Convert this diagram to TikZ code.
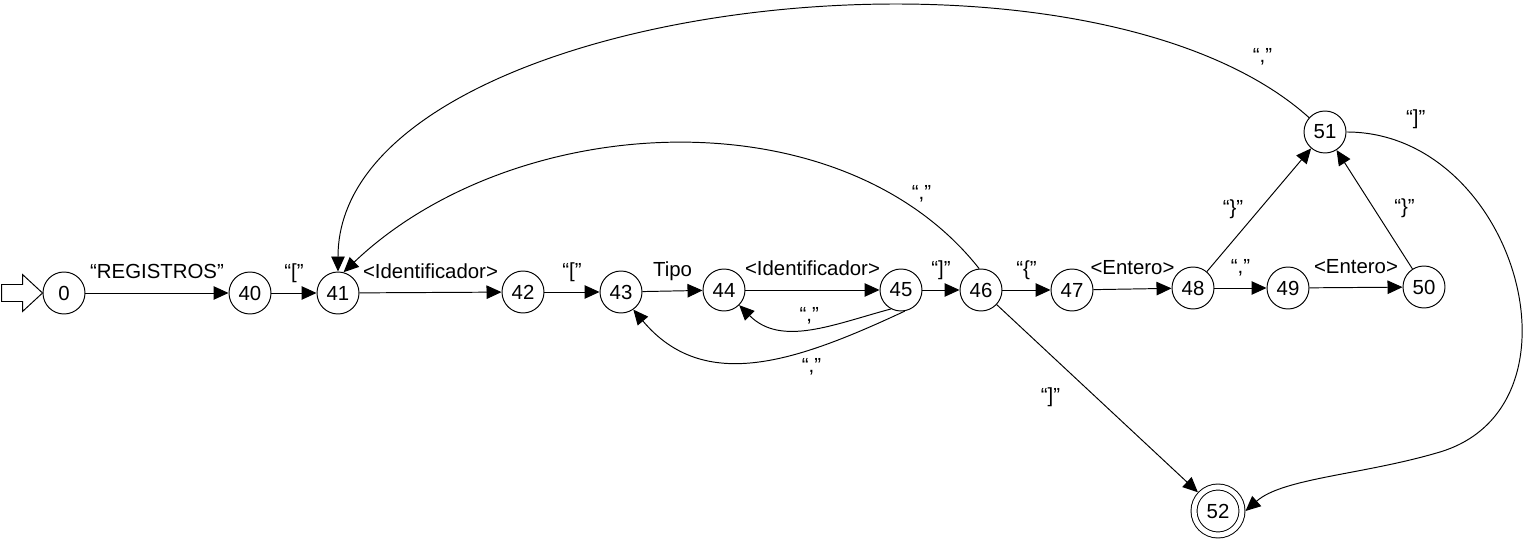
\documentclass[tikz,border=0pt]{standalone}
\usepackage{fontspec}
\setmainfont{Liberation Sans}
\usetikzlibrary{arrows.meta}
\newcommand{\statefont}{\fontsize{11.6pt}{13pt}\selectfont}
\tikzset{
  stnode/.style={circle,draw,line width=0.55pt,minimum size=0.84cm,inner sep=0pt,font=\statefont},
  finnode/.style={stnode,minimum size=0.96cm,double,double distance=0.1cm,outer sep=0.07cm},
  lbl/.style={font=\statefont,inner sep=1pt,text height=0.75em,text depth=0.25em},
  arr/.style={-{Triangle[length=0.3cm,width=0.27cm]},line width=0.55pt}
}

\begin{document}
\begin{tikzpicture}
  \useasboundingbox (0,0) rectangle (30.5,10.8);

  % States
  \node[stnode] (n0)  at (1.28,4.94)  {0};
  \node[stnode] (n40) at (5.00,4.94)  {40};
  \node[stnode] (n41) at (6.76,4.94)  {41};
  \node[stnode] (n42) at (10.46,4.96) {42};
  \node[stnode] (n43) at (12.42,4.96) {43};
  \node[stnode] (n44) at (14.48,5.00) {44};
  \node[stnode] (n45) at (18.02,5.00) {45};
  \node[stnode] (n46) at (19.62,5.00) {46};
  \node[stnode] (n47) at (21.44,5.00) {47};
  \node[stnode] (n48) at (23.86,5.04) {48};
  \node[stnode] (n49) at (25.76,5.04) {49};
  \node[stnode] (n50) at (28.48,5.06) {50};
  \node[stnode] (n51) at (26.50,8.16) {51};
  \node[finnode] (n52) at (24.36,0.58) {52};
  \coordinate (bend52) at (28.80,1.76);

  % Start marker
  \draw[line width=0.55pt] (n0.west) -- ++(-0.4,0.37) -- ++(0,-0.2) -- ++(-0.42,0)
    -- ++(0,-0.34) -- ++(0.42,0) -- ++(0,-0.2) -- cycle;

  % Main chain
  \draw[arr] (n0)  -- node[lbl,above=0.15cm] {“REGISTROS”} (n40);
  \draw[arr] (n40) -- node[lbl,above=0.15cm] {“[”} (n41);
  \draw[arr] (n41) -- node[lbl,above=0.15cm] {<Identificador>} (n42);
  \draw[arr] (n42) -- node[lbl,above=0.15cm] {“[”} (n43);
  \draw[arr] (n43) -- node[lbl,above=0.15cm] {Tipo} (n44);
  \draw[arr] (n44) -- node[lbl,above=0.15cm] {<Identificador>} (n45);
  \draw[arr] (n45) -- node[lbl,above=0.15cm] {“]”} (n46);
  \draw[arr] (n46) -- node[lbl,above=0.15cm] {“\{”} (n47);
  \draw[arr] (n47) -- node[lbl,above=0.15cm] {<Entero>} (n48);
  \draw[arr] (n48) -- node[lbl,above=0.15cm] {“,”} (n49);
  \draw[arr] (n49) -- node[lbl,above=0.15cm] {<Entero>} (n50);

  % Closing braces
  \draw[arr] (n48) -- node[lbl,left=0.27cm] {“\}”} (n51);
  \draw[arr] (n50) -- node[lbl,right=0.35cm] {“\}”} (n51);
  \draw[arr] (n46) -- node[lbl,left=0.7cm] {“]”} (n52);

  % Loops back
  \draw[arr] (n45.-118) to[out=-165,in=-45] node[lbl,above] {“,”} (n44);
  \draw[arr] (n45.-80) .. controls +(-155:2.4) and +(-50:2.2) ..
    node[lbl,pos=0.3,below=0.15cm] {“,”} (n43.-55);
  \draw[arr] (n46.95) .. controls +(128.3:4.5) and +(43.6:4.7) ..
    node[lbl,pos=0.12,above=0.15cm] {“,”} (n41.75);
  \draw[arr] (n51) .. controls +(138:6.6) and +(90:5.8) ..
    node[lbl,pos=0.06,above=0.3cm] {“,”} (n41);

  % Exit to final state
  \draw[arr] (n51) .. controls +(0:3.8) and +(16.8:3.2) ..
    node[lbl,pos=0.15,above=0.35cm] {“]”} (bend52)
    .. controls +(196.6:1.6) and +(41.5:1) .. (n52.east);

\end{tikzpicture}
\end{document}
